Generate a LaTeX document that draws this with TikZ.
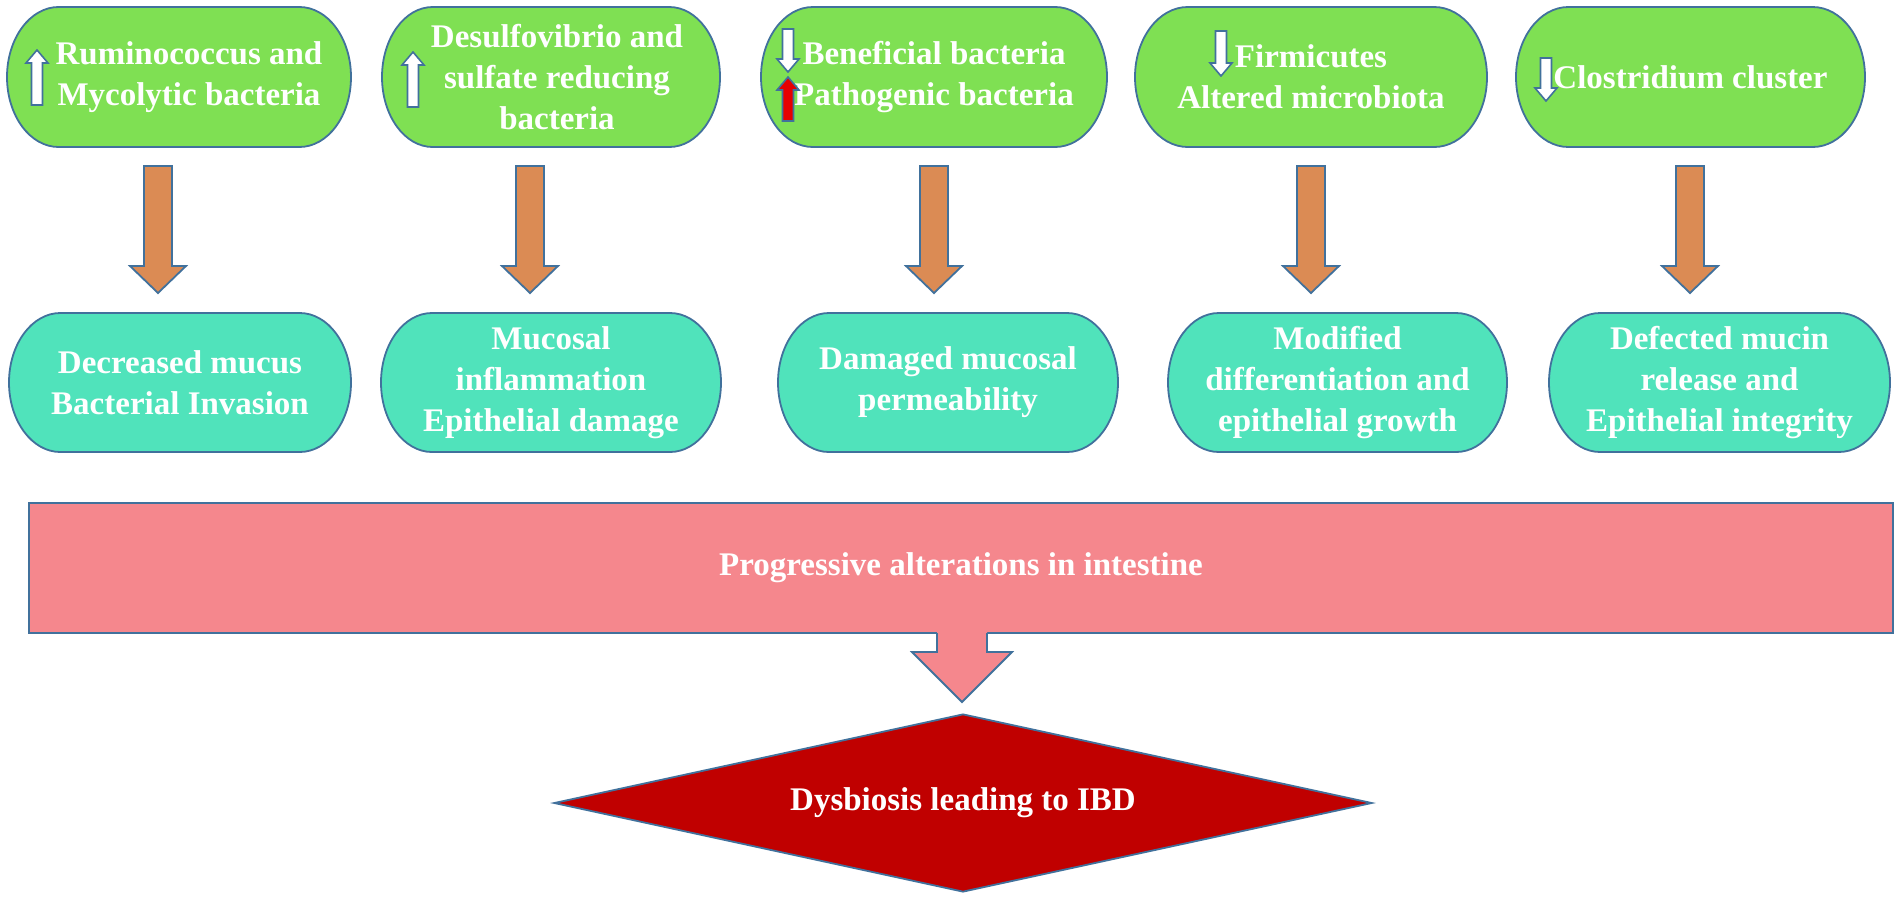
\documentclass[tikz,border=0pt]{standalone}
\usepackage{fontspec}
\setmainfont{Liberation Serif}
\usetikzlibrary{shapes.geometric}
\definecolor{topgreen}{RGB}{127,224,83}
\definecolor{botteal}{RGB}{80,227,187}
\definecolor{pinkbar}{RGB}{245,135,141}
\definecolor{orangearr}{RGB}{219,139,84}
\definecolor{darkred}{RGB}{192,0,0}
\definecolor{edgeblue}{RGB}{65,113,156}
\definecolor{indred}{RGB}{230,0,0}
\tikzset{
  boxline/.style={draw=edgeblue, line width=0.9pt},
  boxtext/.style={text=white, align=center, font=\bfseries\fontsize{16.5}{20.5}\selectfont, inner sep=0pt},
  orangearrow/.style={draw=edgeblue, line width=0.9pt, fill=orangearr, line join=miter},
  indarrow/.style={draw=edgeblue, line width=0.8pt, line join=miter},
}
% terminator box: name, fill, x0, x1, y0, y1, text
\newcommand{\termbox}[7]{%
  \pgfmathsetmacro\trx{0.15*(#4-#3)}%
  \pgfmathsetmacro\trxpt{\trx*0.5}%
  \pgfmathsetmacro\trypt{(#6-#5)*0.25}%
  \draw[boxline, fill=#2] ({#3+\trx},#5) -- ({#4-\trx},#5)
     arc[start angle=90,end angle=-90,x radius=\trxpt pt,y radius=\trypt pt]
     -- ({#3+\trx},#6)
     arc[start angle=270,end angle=90,x radius=\trxpt pt,y radius=\trypt pt] -- cycle;
  \node[boxtext] (#1) at ({(#3+#4)/2},{(#5+#6)/2}) {#7};
}
% orange block arrow: cx, ytop, yhead, ytip
\newcommand{\blockdown}[4]{%
  \draw[orangearrow] ({#1-14},#2) -- ({#1+14},#2) -- ({#1+14},#3) -- ({#1+28},#3)
     -- (#1,#4) -- ({#1-28},#3) -- ({#1-14},#3) -- cycle;
}
% small indicator arrows: cx, ytop, ybot, fill
\newcommand{\indup}[4]{%
  \draw[indarrow, fill=#4] (#1,#2) -- ({#1+11},{#2+13}) -- ({#1+5.5},{#2+13}) -- ({#1+5.5},#3)
     -- ({#1-5.5},#3) -- ({#1-5.5},{#2+13}) -- ({#1-11},{#2+13}) -- cycle;
}
\newcommand{\inddown}[4]{%
  \draw[indarrow, fill=#4] (#1,#3) -- ({#1+11},{#3-13}) -- ({#1+5.5},{#3-13}) -- ({#1+5.5},#2)
     -- ({#1-5.5},#2) -- ({#1-5.5},{#3-13}) -- ({#1-11},{#3-13}) -- cycle;
}
\begin{document}
\begin{tikzpicture}[x=0.5pt,y=-0.5pt]
\useasboundingbox[fill=white] (0,0) rectangle (1902,901);

% top boxes
\termbox{t1}{topgreen}{7}{351}{7}{147}{\hspace*{10pt}Ruminococcus and\\\hspace*{10pt}Mycolytic bacteria}
\termbox{t2}{topgreen}{382}{720}{7}{147}{\hspace*{6pt}Desulfovibrio and\\\hspace*{6pt}sulfate reducing\\\hspace*{6pt}bacteria}
\termbox{t3}{topgreen}{761}{1107}{7}{147}{Beneficial bacteria\\Pathogenic bacteria}
\termbox{t4}{topgreen}{1135}{1487}{7}{147}{Firmicutes\\Altered microbiota}
\termbox{t5}{topgreen}{1516}{1865}{7}{147}{Clostridium cluster}

% indicator arrows
\indup{37}{50}{105}{white}
\indup{413}{52}{107}{white}
\inddown{788}{29}{72}{white}
\indup{788}{77}{121}{indred}
\inddown{1221}{31}{76}{white}
\inddown{1546}{58}{101}{white}

% orange arrows
\blockdown{158}{166}{266}{293}
\blockdown{530}{166}{266}{293}
\blockdown{934}{166}{266}{293}
\blockdown{1311}{166}{266}{293}
\blockdown{1690}{166}{266}{293}

% bottom boxes
\termbox{b1}{botteal}{9}{351}{313}{452}{Decreased mucus\\Bacterial Invasion}
\termbox{b2}{botteal}{381}{721}{313}{452}{Mucosal\\inflammation\\Epithelial damage}
\termbox{b3}{botteal}{778}{1118}{313}{452}{Damaged mucosal\\permeability}
\termbox{b4}{botteal}{1168}{1507}{313}{452}{Modified\\differentiation and\\epithelial growth}
\termbox{b5}{botteal}{1549}{1890}{313}{452}{Defected mucin\\release and\\Epithelial integrity}

% pink bar
\node[boxline, fill=pinkbar, rectangle, minimum width=932pt, minimum height=65pt, inner sep=0pt,
      text=white, font=\bfseries\fontsize{16.5}{20.5}\selectfont] (prog) at (961,568) {Progressive alterations in intestine};
% pink arrow
\fill[pinkbar] (937,630) -- (987,630) -- (987,652) -- (1012,652) -- (962,702) -- (912,652) -- (937,652) -- cycle;
\draw[boxline, line join=miter] (987,633) -- (987,652) -- (1012,652) -- (962,702) -- (912,652) -- (937,652) -- (937,633);

% diamond
\node[diamond, aspect=4.6, minimum width=409pt, minimum height=89pt, inner sep=0pt,
      draw=edgeblue, line width=0.9pt, fill=darkred, text=white,
      font=\bfseries\fontsize{16.5}{20.5}\selectfont] (dys) at (963,803) {Dysbiosis leading to IBD};
\end{tikzpicture}
\end{document}
